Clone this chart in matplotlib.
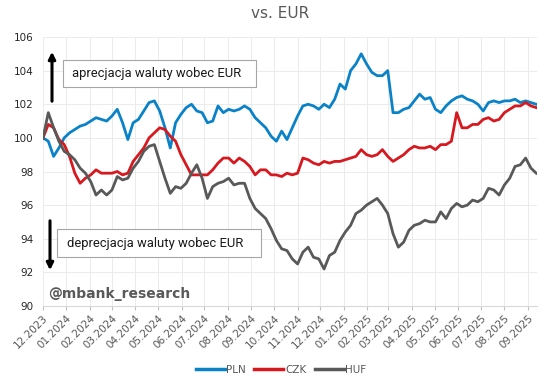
import matplotlib
matplotlib.use("Agg")
import matplotlib.pyplot as plt
from matplotlib.patches import Rectangle, FancyArrowPatch
from matplotlib.lines import Line2D
import pandas as pd

# ---- data (weekly readings) ----
dates = pd.date_range("2023-12-01", periods=94, freq="7D")

pln = [100.0, 99.8, 98.9, 99.4, 100.0, 100.3, 100.5, 100.7, 100.8, 101.0,
       101.2, 101.1, 101.0, 101.3, 101.7, 100.9, 99.9, 100.9, 101.1, 101.6,
       102.1, 102.2, 101.6, 100.6, 99.4, 100.9, 101.4, 101.8, 102.0, 101.6,
       101.5, 100.9, 101.0, 101.9, 101.5, 101.7, 101.6, 101.7, 101.9, 101.7,
       101.2, 100.9, 100.6, 100.1, 99.8, 100.4, 99.9, 100.6, 101.3, 101.9,
       102.0, 101.9, 101.7, 102.0, 101.8, 102.3, 103.2, 102.9, 104.0, 104.4,
       105.0, 104.4, 103.9, 103.7, 103.7, 104.0, 101.5, 101.5, 101.7, 101.8,
       102.2, 102.6, 102.3, 102.4, 101.7, 101.5, 101.9, 102.2, 102.4, 102.5,
       102.3, 102.2, 102.0, 101.6, 102.1, 102.2, 102.1, 102.2, 102.2, 102.3,
       102.1, 102.2, 102.1, 102.0]

czk = [100.0, 100.8, 100.6, 99.9, 99.6, 98.9, 97.9, 97.3, 97.6, 97.8,
       98.1, 97.9, 97.9, 97.9, 98.0, 97.8, 97.9, 98.6, 99.0, 99.4,
       100.0, 100.3, 100.6, 100.5, 100.1, 99.8, 99.0, 98.4, 97.8, 97.8,
       97.8, 97.8, 98.1, 98.5, 98.8, 98.8, 98.5, 98.8, 98.6, 98.3,
       97.8, 98.1, 98.1, 97.8, 97.8, 97.7, 97.9, 97.8, 97.9, 98.8,
       98.7, 98.5, 98.4, 98.6, 98.5, 98.6, 98.6, 98.7, 98.8, 98.9,
       99.3, 99.0, 98.9, 99.0, 99.3, 98.9, 98.6, 98.8, 99.0, 99.3,
       99.5, 99.4, 99.4, 99.5, 99.3, 99.6, 99.6, 99.8, 101.5, 100.6,
       100.6, 100.8, 100.8, 101.1, 101.2, 101.0, 101.1, 101.5, 101.7, 101.9,
       101.9, 102.1, 101.9, 101.8]

huf = [100.0, 101.5, 100.6, 99.8, 99.2, 99.0, 98.7, 98.2, 97.9, 97.4,
       96.6, 96.9, 96.6, 96.9, 97.7, 97.5, 97.6, 98.2, 98.6, 99.2,
       99.5, 99.6, 98.6, 97.6, 96.7, 97.1, 97.0, 97.3, 97.9, 98.4,
       97.6, 96.4, 97.1, 97.3, 97.4, 97.6, 97.2, 97.3, 97.3, 96.4,
       95.8, 95.5, 95.2, 94.6, 93.9, 93.4, 93.3, 92.8, 92.5, 93.2,
       93.5, 92.9, 92.8, 92.2, 93.0, 93.2, 93.9, 94.4, 94.8, 95.5,
       95.7, 96.0, 96.2, 96.4, 96.0, 95.5, 94.3, 93.5, 93.8, 94.5,
       94.8, 94.9, 95.1, 95.0, 95.0, 95.6, 95.2, 95.8, 96.1, 95.9,
       96.0, 96.3, 96.2, 96.4, 97.0, 96.9, 96.6, 97.2, 97.6, 98.3,
       98.4, 98.8, 98.2, 97.9]

series_names = ["PLN", "CZK", "HUF"]
series_colors = ["#0a82c8", "#d7191f", "#595959"]

month_ticks = pd.date_range("2023-12-01", "2025-09-01", freq="MS")
tick_labels = [d.strftime("%m.%Y") for d in month_ticks]
y_ticks = list(range(90, 107, 2))

W, H = 550, 382
fig = plt.figure(figsize=(W / 100, H / 100), dpi=100)

def fx(x):
    return x / W

def fy(y):
    return 1 - y / H

ax = fig.add_axes([fx(43), fy(306), (537 - 43) / W, (306 - 37) / H])

for vals, name, col in zip([pln, czk, huf], series_names, series_colors):
    ax.plot(dates, vals, color=col, lw=2.0, solid_joinstyle="round", label=name)

ax.set_xlim(pd.Timestamp("2023-12-01"), pd.Timestamp("2025-09-13"))
ax.set_ylim(90, 106)
ax.set_yticks(y_ticks)
ax.set_yticklabels([str(v) for v in y_ticks], fontsize=7.5, color="#262626")
ax.set_xticks(month_ticks)
ax.set_xticklabels(tick_labels, rotation=45, ha="right", rotation_mode="anchor",
                   fontsize=7.5, color="#595959")
ax.tick_params(axis="y", length=0, pad=7)
ax.tick_params(axis="x", length=3, color="#bfbfbf", pad=2)
ax.grid(True, color="#ebebeb", lw=0.7)
ax.set_axisbelow(True)
for s in ["top", "right", "left"]:
    ax.spines[s].set_visible(False)
ax.spines["bottom"].set_color("#d9d9d9")

fig.text(fx(280), fy(13), "vs. EUR", fontsize=11, color="#595959",
         ha="center", va="center")

# annotation boxes
fig.add_artist(Rectangle((fx(62.7), fy(87.3)), (256 - 62.7) / W, (87.3 - 60) / H,
                         transform=fig.transFigure, facecolor="white",
                         edgecolor="#a6a6a6", lw=0.8, zorder=5))
fig.text(fx(71.7), fy(73.7), "aprecjacja waluty wobec EUR", fontsize=9.4,
         family="Roboto", color="#1a1a1a", ha="left", va="center", zorder=6)
fig.add_artist(Rectangle((fx(57.3), fy(257.3)), (261 - 57.3) / W, (257.3 - 229) / H,
                         transform=fig.transFigure, facecolor="white",
                         edgecolor="#a6a6a6", lw=0.8, zorder=5))
fig.text(fx(67.3), fy(243), "deprecjacja waluty wobec EUR", fontsize=9.4,
         family="Roboto", color="#1a1a1a", ha="left", va="center", zorder=6)

# arrows
fig.add_artist(FancyArrowPatch(
    (fx(52), fy(104)), (fx(52), fy(49)), transform=fig.transFigure,
    arrowstyle="-|>", mutation_scale=10, lw=2.2, color="black", zorder=6))
fig.add_artist(FancyArrowPatch(
    (fx(50), fy(218)), (fx(50), fy(273)), transform=fig.transFigure,
    arrowstyle="-|>", mutation_scale=10, lw=2.2, color="black", zorder=6))

fig.text(fx(48), fy(294), "@mbank_research", fontsize=10, fontweight="bold",
         color="#595959", ha="left", va="center")

handles = [Line2D([0], [0], color=c, lw=2.5) for c in series_colors]
fig.legend(handles, series_names, loc="center", bbox_to_anchor=(fx(281), fy(370)),
           ncol=3, frameon=False, handlelength=2.8, columnspacing=0.8,
           handletextpad=0.15, fontsize=7.5, labelcolor="#595959")

fig.savefig("out.png", dpi=100)
